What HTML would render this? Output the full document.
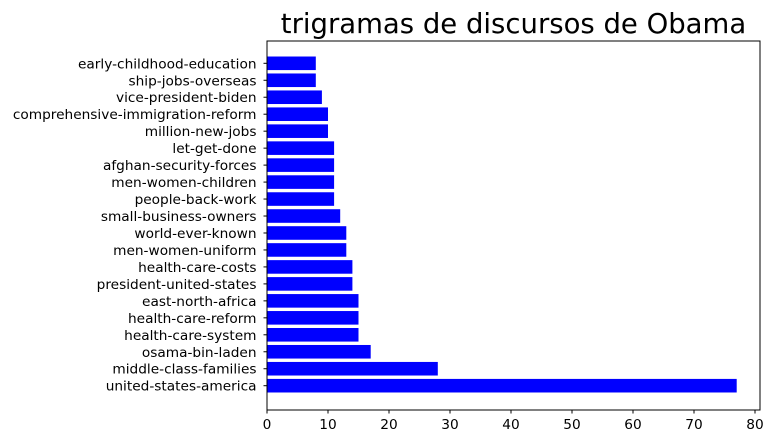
<!DOCTYPE html>
<html><head><meta charset="utf-8"><style>
body{margin:0;background:#fff}
svg{display:block;font-family:"DejaVu Sans","Liberation Sans",sans-serif}
</style></head><body>
<svg id="c" width="776" height="443"></svg>
<script>
const categories=["united-states-america","middle-class-families","osama-bin-laden","health-care-system","health-care-reform","east-north-africa","president-united-states","health-care-costs","men-women-uniform","world-ever-known","small-business-owners","people-back-work","men-women-children","afghan-security-forces","let-get-done","million-new-jobs","comprehensive-immigration-reform","vice-president-biden","ship-jobs-overseas","early-childhood-education"];
const counts=[77,28,17,15,15,15,14,14,13,13,12,11,11,11,11,10,10,9,8,8];
const xTicks=[0,10,20,30,40,50,60,70,80];
const NS="http://www.w3.org/2000/svg";
const svg=document.getElementById('c');
const L=267,R=760,T=41,B=410;
const x=v=>L+v*(755-267)/80;
const yBottom=385.7,step=(385.7-63.3)/19;
const y=i=>yBottom-i*step;
function mk(t,a,txt){const e=document.createElementNS(NS,t);for(const k in a)e.setAttribute(k,a[k]);if(txt!==undefined)e.textContent=txt;svg.appendChild(e);return e;}
const title=mk('text',{x:(L+R)/2,y:33,'text-anchor':'middle','font-size':27.5},'trigramas de discursos de Obama');


const bh=step*0.8;
categories.forEach((c,i)=>{
  const r=mk('rect',{x:x(0),y:y(i)-bh/2,width:x(counts[i])-x(0),height:bh,fill:'#0000ff'});
  
  
  mk('line',{x1:L-3.5,x2:L,y1:y(i),y2:y(i),stroke:'#000','stroke-width':1});
  const t=mk('text',{x:L-10.5,y:y(i)+5,'text-anchor':'end','font-size':13.7},c);
  
  
});
xTicks.forEach(v=>{
  mk('line',{x1:x(v),x2:x(v),y1:B,y2:B+3.5,stroke:'#000','stroke-width':1});
  const t=mk('text',{x:x(v),y:B+19,'text-anchor':'middle','font-size':13.7},v);
  
  
});
const f=mk('rect',{x:L,y:T,width:R-L,height:B-T,fill:'none',stroke:'#000','stroke-width':1});


</script>
</body></html>
